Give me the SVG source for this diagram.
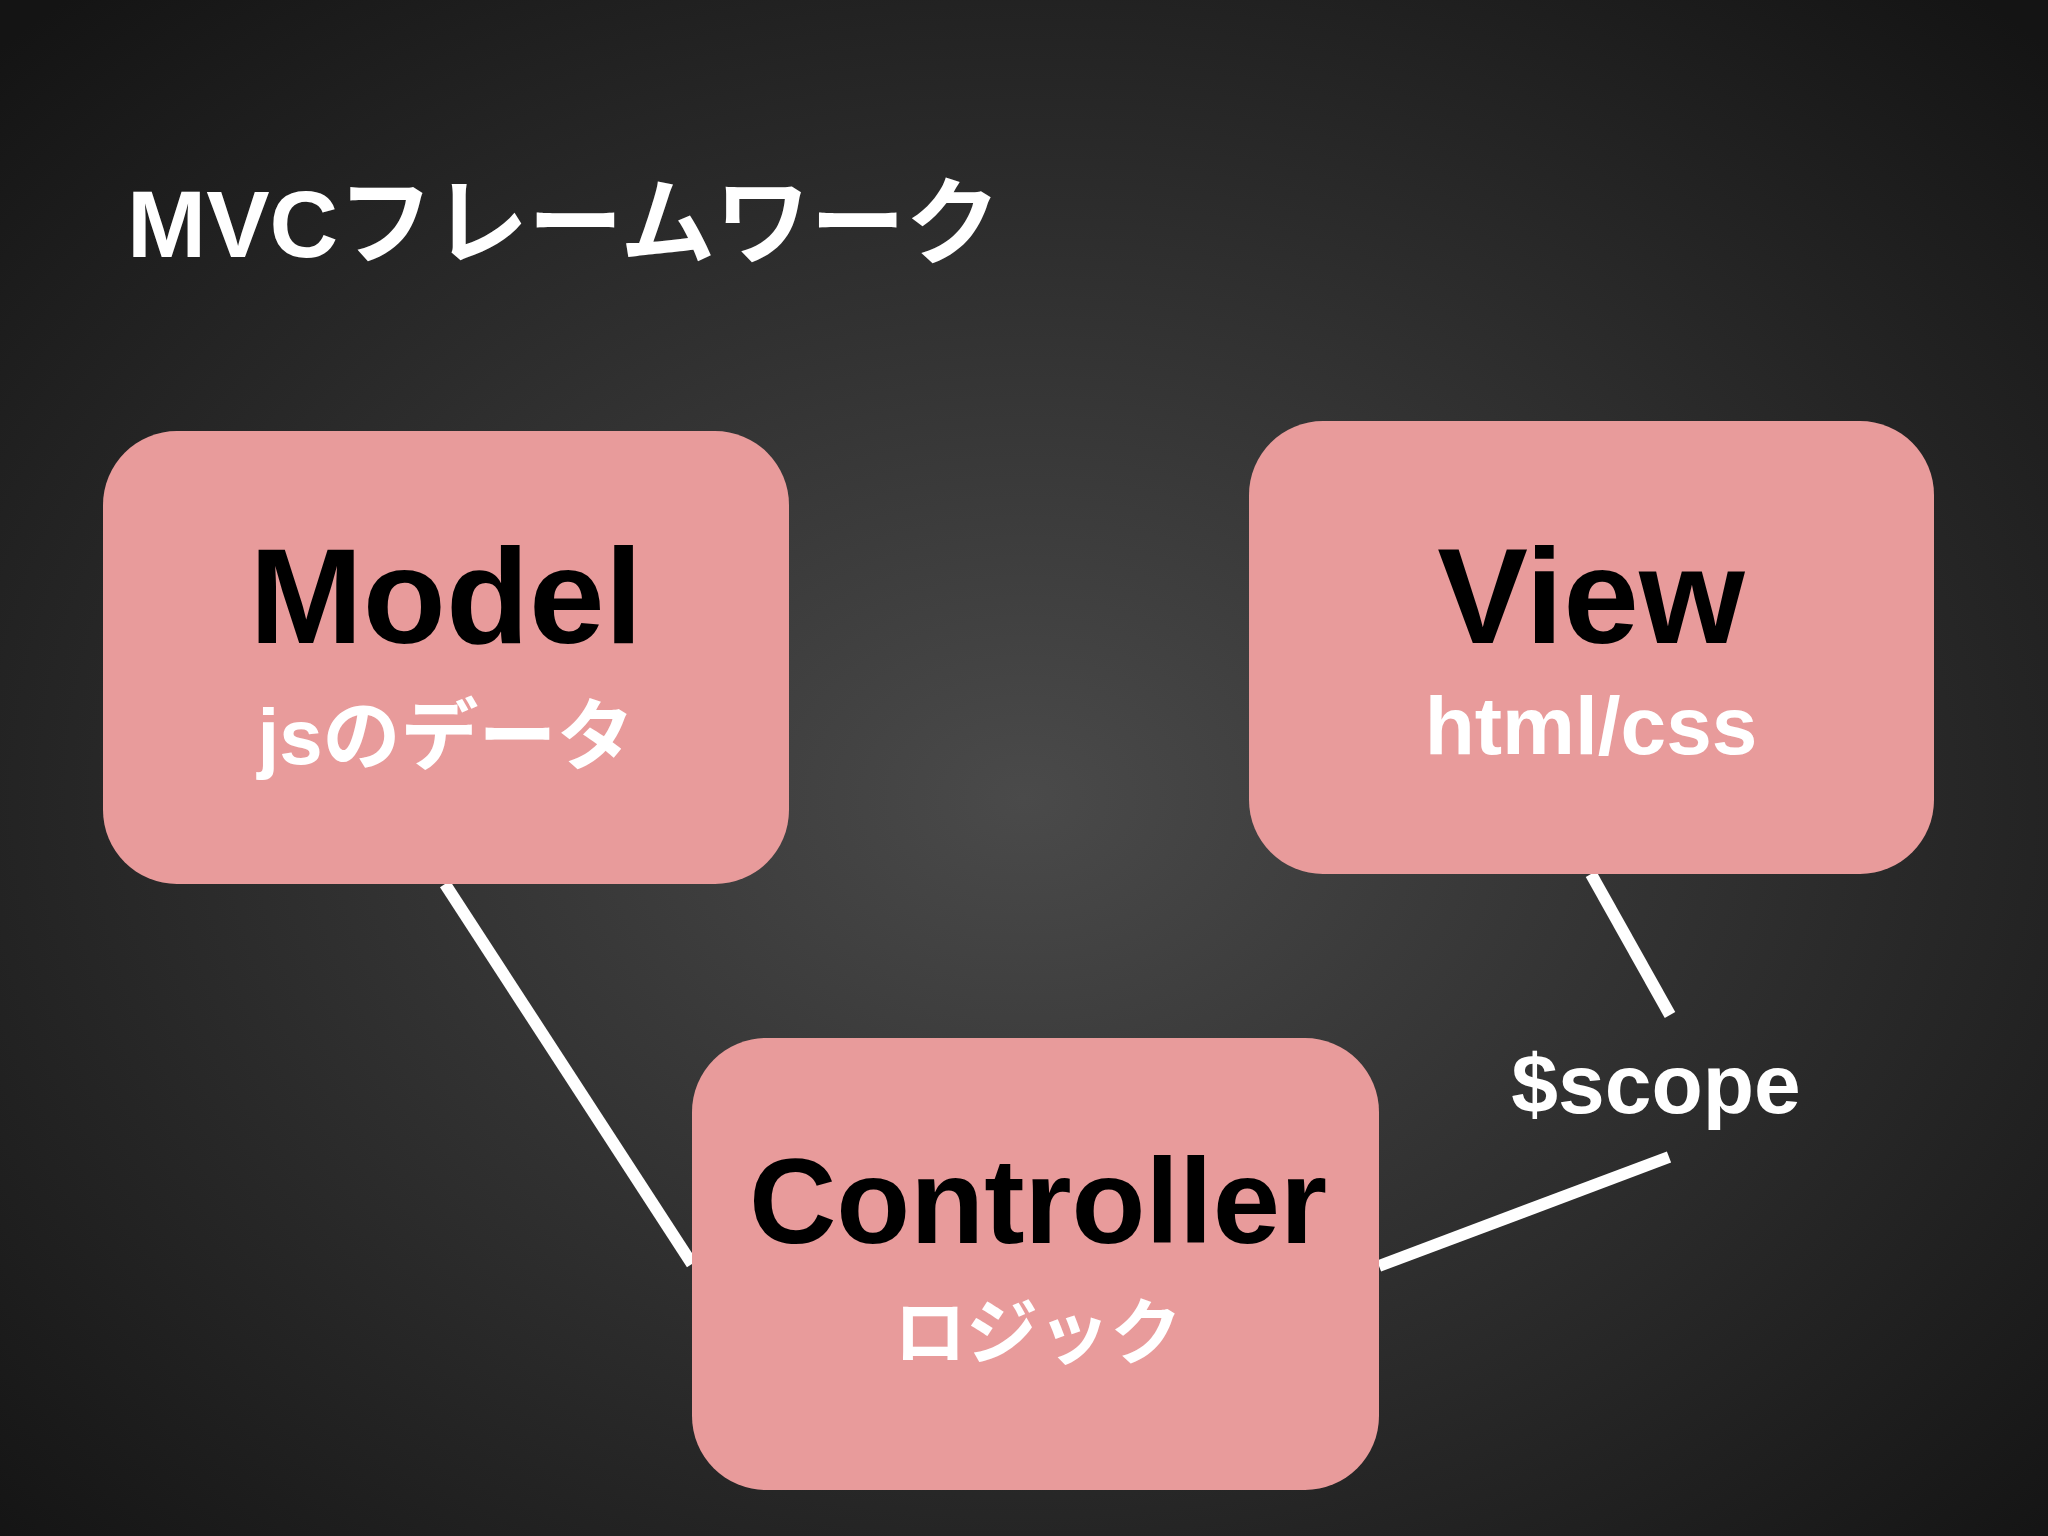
<svg xmlns="http://www.w3.org/2000/svg" width="2048" height="1536" viewBox="0 0 2048 1536">
<defs>
<radialGradient id="bg" cx="50%" cy="52%" r="70%">
<stop offset="0" stop-color="#4a4a4a"/>
<stop offset="1" stop-color="#141414"/>
</radialGradient>
<style>
.box{fill:#e89b9b}
.t{font-family:"Liberation Sans","Noto Sans CJK JP",sans-serif;font-weight:bold;text-anchor:middle}
.main{font-size:136px;fill:#000}
.sub{font-size:78px;fill:#fff}
.ln{stroke:#fff;stroke-width:12;fill:none}
</style>
</defs>
<rect width="2048" height="1536" fill="url(#bg)"/>
<text x="127" y="257" font-family="Liberation Sans,Noto Sans CJK JP,sans-serif" font-weight="bold" font-size="95" fill="#fff">MVCフレームワーク</text>
<g id="connectors">
<line class="ln" x1="445" y1="884" x2="692" y2="1264"/>
<line class="ln" x1="1591" y1="874" x2="1670" y2="1015"/>
<line class="ln" x1="1379" y1="1266" x2="1669" y2="1157"/>
</g>
<g id="model">
<rect class="box" x="103" y="431" width="686" height="453" rx="74"/>
<text class="t main" x="446" y="643">Model</text>
<text class="t sub" x="446" y="764">jsのデータ</text>
</g>
<g id="view">
<rect class="box" x="1249" y="421" width="685" height="453" rx="74"/>
<text class="t main" x="1591" y="643">View</text>
<text class="t sub" x="1591" y="754" style="font-size:82px">html/css</text>
</g>
<g id="controller">
<rect class="box" x="692" y="1038" width="687" height="452" rx="74"/>
<text class="t main" x="1038" y="1243" style="font-size:121px">Controller</text>
<text class="t sub" x="1038" y="1358" style="font-size:72px">ロジック</text>
</g>
<g id="scope">
<text class="t sub" x="1656" y="1113" style="font-size:84px">$scope</text>
</g>
</svg>
